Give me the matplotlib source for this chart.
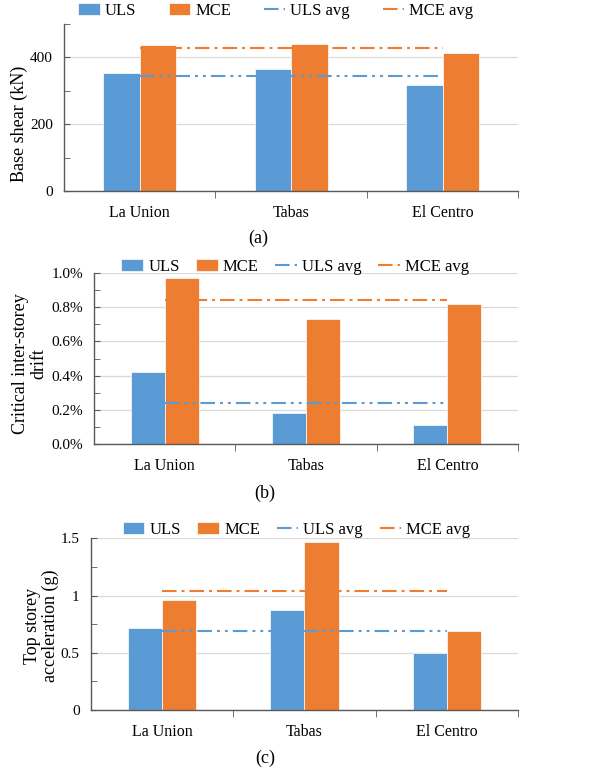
import numpy as np
import matplotlib
matplotlib.use("Agg")
import matplotlib.pyplot as plt
from matplotlib.ticker import MultipleLocator, FixedLocator, FuncFormatter

plt.rcParams['font.family'] = ['Liberation Serif', 'DejaVu Serif']

# data
records = ["La Union", "Tabas", "El Centro"]

shear_uls = [352, 365, 317]
shear_mce = [437, 440, 412]
shear_uls_avg = 345
shear_mce_avg = 429

drift_uls = [0.42, 0.18, 0.11]      # percent
drift_mce = [0.97, 0.73, 0.82]
drift_uls_avg = 0.237
drift_mce_avg = 0.84

acc_uls = [0.714, 0.871, 0.498]     # g
acc_mce = [0.961, 1.465, 0.687]
acc_uls_avg = 0.694
acc_mce_avg = 1.038

blue = '#5B9BD5'
orange = '#ED7D31'
grid_col = '#D9D9D9'
spine_col = '#595959'

fig = plt.figure(figsize=(5.93, 7.73), dpi=100)

# axes boxes in figure fractions [left, bottom, width, height]
ax_a = fig.add_axes([0.108, 0.753, 0.766, 0.216])
ax_b = fig.add_axes([0.1585, 0.4256, 0.715, 0.2212])
ax_c = fig.add_axes([0.153, 0.0815, 0.7206, 0.2221])

bar_w = 0.24
x = np.arange(len(records))


def draw_panel(ax, uls, mce, uls_avg, mce_avg, ylim, major, minor, fmt,
               ylabel, label_xy, legend_xy, colspace, caption, caption_xy):
    b1 = ax.bar(x - bar_w / 2, uls, bar_w, color=blue, edgecolor='white', linewidth=0.5, zorder=2)
    b2 = ax.bar(x + bar_w / 2, mce, bar_w, color=orange, edgecolor='white', linewidth=0.5, zorder=2)
    l1, = ax.plot([x[0], x[-1]], [uls_avg, uls_avg], color=blue, lw=1.5,
                  linestyle=(0, (7, 2.4, 1.4, 2.4, 1.4, 2.4)), zorder=3)
    l2, = ax.plot([x[0], x[-1]], [mce_avg, mce_avg], color=orange, lw=1.5,
                  linestyle=(0, (7, 2.4, 1.4, 2.4)), zorder=3)

    ax.set_xlim(-0.5, 2.5)
    ax.set_ylim(*ylim)
    ax.yaxis.set_major_locator(MultipleLocator(major))
    ax.yaxis.set_minor_locator(MultipleLocator(minor))
    ax.yaxis.set_major_formatter(FuncFormatter(fmt))
    ax.grid(axis='y', which='major', color=grid_col, lw=0.9)
    ax.set_axisbelow(True)

    ax.set_xticks(x)
    ax.set_xticklabels(records)
    ax.xaxis.set_minor_locator(FixedLocator([0.5, 1.5, 2.5]))
    ax.tick_params(axis='x', which='major', length=0, pad=10, labelsize=11.5)
    ax.tick_params(axis='x', which='minor', direction='out', length=5, color=spine_col)
    ax.tick_params(axis='y', which='both', direction='in', length=4, color=spine_col, labelsize=11, pad=8)

    for side in ['top', 'right']:
        ax.spines[side].set_visible(False)
    for side in ['left', 'bottom']:
        ax.spines[side].set_color(spine_col)
        ax.spines[side].set_linewidth(1.0)

    ax.set_ylabel(ylabel, fontsize=13, linespacing=1.1, va='center')
    ax.yaxis.set_label_coords(*label_xy)

    ax.legend([b1, b2, l1, l2], ['ULS', 'MCE', 'ULS avg', 'MCE avg'],
              loc='center', bbox_to_anchor=legend_xy, bbox_transform=fig.transFigure,
              ncol=4, frameon=False, fontsize=12, handlelength=1.3, handleheight=0.7,
              handletextpad=0.3, columnspacing=colspace, borderpad=0)

    fig.text(caption_xy[0], caption_xy[1], caption, fontsize=13, ha='center', va='center')


draw_panel(ax_a, shear_uls, shear_mce, shear_uls_avg, shear_mce_avg,
           (0, 500), 200, 100, lambda v, p: f"{v:g}",
           "Base shear (kN)", (-0.099, 0.40), (0.465, 0.9858), 1.95, "(a)", (0.435, 1 - 238 / 773))

draw_panel(ax_b, drift_uls, drift_mce, drift_uls_avg, drift_mce_avg,
           (0, 1.0), 0.2, 0.1, lambda v, p: f"{v:.1f}%",
           "Critical inter-storey\ndrift", (-0.151, 0.47), (0.498, 0.655), 1.0, "(b)", (0.447, 1 - 493 / 773))

draw_panel(ax_c, acc_uls, acc_mce, acc_uls_avg, acc_mce_avg,
           (0, 1.5), 0.5, 0.25, lambda v, p: f"{v:g}",
           "Top storey\nacceleration (g)", (-0.115, 0.49), (0.5, 0.3144), 1.0, "(c)", (0.447, 1 - 758 / 773))

fig.savefig("out.png", dpi=100)
